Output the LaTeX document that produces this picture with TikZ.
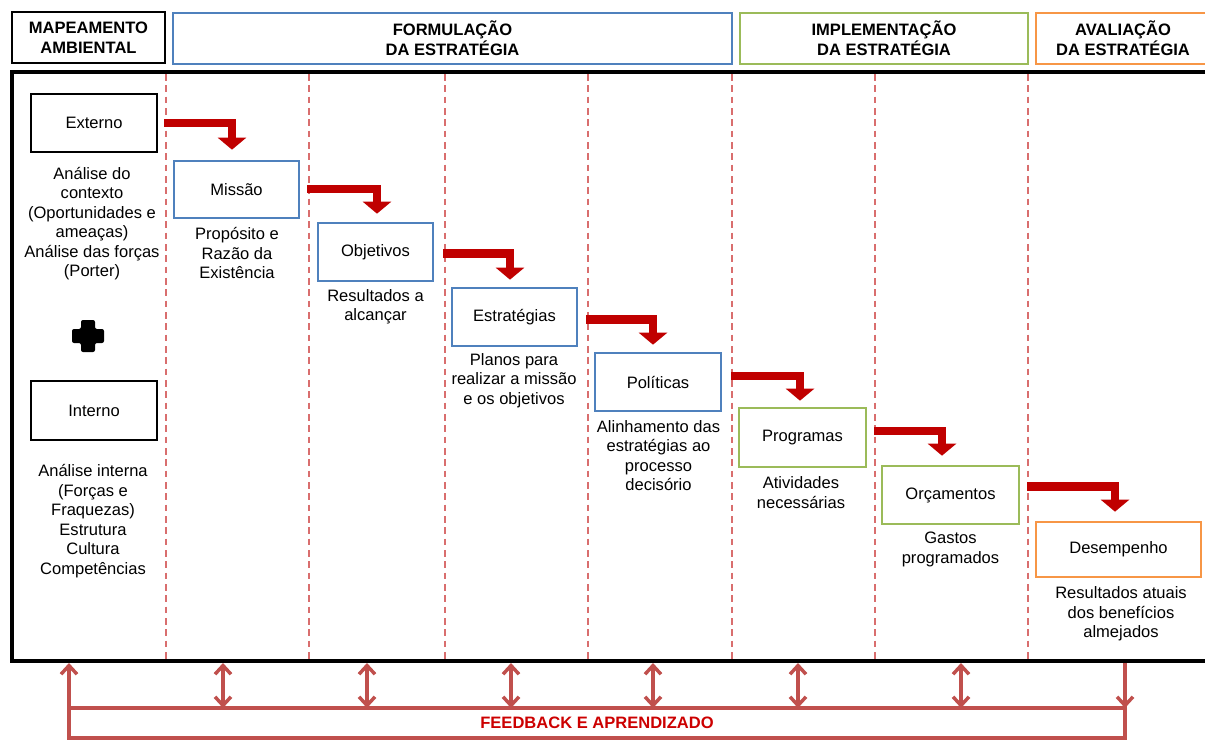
\documentclass[tikz,border=0pt]{standalone}
\usepackage{fontspec}
\setmainfont{Liberation Sans}
\usetikzlibrary{arrows.meta}
\definecolor{bluebx}{RGB}{79,129,189}
\definecolor{greenbx}{RGB}{155,187,89}
\definecolor{orangebx}{RGB}{247,150,70}
\definecolor{darkred}{RGB}{192,0,0}
\definecolor{fbcol}{RGB}{192,80,77}
\definecolor{dashcol}{RGB}{217,110,110}
\definecolor{fbtext}{RGB}{204,0,0}
\tikzset{
  hdr/.style={draw, line width=2.2pt, font=\fontsize{12.4}{15}\selectfont\bfseries, align=center, inner sep=0pt, minimum height=38.25pt},
  bx/.style={draw, line width=2pt, font=\fontsize{12.4}{15}\selectfont, inner sep=0pt, minimum height=43.5pt},
  desc/.style={font=\fontsize{12.4}{14.6}\selectfont, align=center, inner sep=0pt},
  redstep/.style={draw=darkred, line width=6.2pt, line join=miter, -{Triangle[width=21pt,length=9pt]}},
  fbline/.style={draw=fbcol, line width=2.6pt},
  fbtip/.style={fbline, -{Straight Barb[length=6.5pt,width=12pt]}},
  fbdbl/.style={fbline, {Straight Barb[length=6.5pt,width=12pt]}-{Straight Barb[length=6.5pt,width=12pt]}},
  divider/.style={draw=dashcol, line width=1pt, dash pattern=on 5pt off 3.5pt}
}
\begin{document}
\begin{tikzpicture}[x=0.75pt,y=-0.75pt]
\useasboundingbox (0,0) rectangle (1205,743);

% headers
\node[hdr, minimum width=114.75pt] (map) at (88.5,37.5) {MAPEAMENTO\\AMBIENTAL};
\node[hdr, draw=bluebx, minimum width=419.25pt] (form) at (452.5,38.5) {FORMULAÇÃO\\DA ESTRATÉGIA};
\node[hdr, draw=greenbx, minimum width=216pt] (impl) at (884,38.5) {IMPLEMENTAÇÃO\\DA ESTRATÉGIA};
\node[hdr, draw=none] (aval) at (1123,38.5) {AVALIAÇÃO\\DA ESTRATÉGIA};
\draw[draw=orangebx, line width=2.2pt] (1205,13) -| (1036,64) -- (1205,64);

% main frame
\draw[line width=2.3pt] (1205,72) -- (12,72) -- (12,661) -- (1205,661);

% dividers
\foreach \xx in {166,309,445,588,732,875,1028}
  \draw[divider] (\xx,74) -- (\xx,660);

% boxes
\node[bx, minimum width=94.5pt, line width=2.2pt] (ext) at (94,123) {Externo};
\node[bx, minimum width=94.5pt, minimum height=44.25pt, line width=2.2pt] (int) at (94,410.5) {Interno};
\node[bx, draw=bluebx, minimum width=93.75pt, minimum height=42.75pt] (mis) at (236.5,189.5) {Missão};
\node[bx, draw=bluebx, minimum width=86.25pt] (obj) at (375.5,252) {Objetivos};
\node[bx, draw=bluebx, minimum width=93.75pt] (est) at (514.5,317) {Estratégias};
\node[bx, draw=bluebx, minimum width=94.5pt] (pol) at (658,382) {Políticas};
\node[bx, draw=greenbx, minimum width=95.25pt, minimum height=44.25pt] (prog) at (802.5,437.5) {Programas};
\node[bx, draw=greenbx, minimum width=102.75pt] (orc) at (950.5,495) {Orçamentos};
\node[bx, draw=orangebx, minimum width=123.75pt, minimum height=41.25pt] (des) at (1118.5,549.5) {Desempenho};

% plus sign
\fill[rounded corners=1.5pt] (81,320) -- (95,320) -- (95,329) -- (104,329) -- (104,343) -- (95,343) -- (95,352) -- (81,352) -- (81,343) -- (72,343) -- (72,329) -- (81,329) -- cycle;

% descriptions
\node[desc] (extd) at (92,223.5) {Análise do\\contexto\\(Oportunidades e\\ameaças)\\Análise das forças\\(Porter)};
\node[desc] (intd) at (93,521) {Análise interna\\(Forças e\\Fraquezas)\\Estrutura\\Cultura\\Competências};
\node[desc] (misd) at (237,253) {Propósito e\\Razão da\\Existência};
\node[desc] (objd) at (375.5,306.5) {Resultados a\\alcançar};
\node[desc] (estd) at (514,380.5) {Planos para\\realizar a missão\\e os objetivos};
\node[desc] (pold) at (658.5,455.5) {Alinhamento das\\estratégias ao\\processo\\decisório};
\node[desc] (progd) at (801,492.5) {Atividades\\necessárias};
\node[desc] (orcd) at (950.5,549.5) {Gastos\\programados};
\node[desc] (desd) at (1121,614) {Resultados atuais\\dos benefícios\\almejados};

% step arrows
\draw[redstep] ([shift={(6,0)}]ext.east) -| ([shift={(-4.5,-10)}]mis.north);
\draw[redstep] ([shift={(7,-0.5)}]mis.east) -| ([shift={(1.5,-8)}]obj.north);
\draw[redstep] ([shift={(9,1.5)}]obj.east) -| ([shift={(-4.5,-7)}]est.north);
\draw[redstep] ([shift={(8,2.5)}]est.east) -| ([shift={(-5,-7)}]pol.north);
\draw[redstep] ([shift={(9,-6)}]pol.east) -| ([shift={(-2.5,-6)}]prog.north);
\draw[redstep] ([shift={(7,-6.5)}]prog.east) -| ([shift={(-8.5,-9)}]orc.north);
\draw[redstep] ([shift={(7,-8.5)}]orc.east) -| ([shift={(-3.5,-9)}]des.north);

% feedback
\node[fbline, draw, minimum width=792pt, minimum height=22.5pt, inner sep=0pt, outer sep=0pt,
      font=\fontsize{12.4}{15}\selectfont\bfseries, text=fbtext] (fb) at (597,723) {FEEDBACK E APRENDIZADO};
\coordinate (tL) at (69,663);
\coordinate (tR) at (1125,663);
\draw[fbtip] (fb.north west) -- (tL);
\draw[fbtip] (tR) -- (fb.north east);
\foreach \xx/\i in {223/1,367/2,511/3,653/4,798/5,961/6} {
  \coordinate (t\i) at (\xx,663);
  \draw[fbdbl] (t\i) -- (t\i |- fb.north);
}
\end{tikzpicture}
\end{document}
